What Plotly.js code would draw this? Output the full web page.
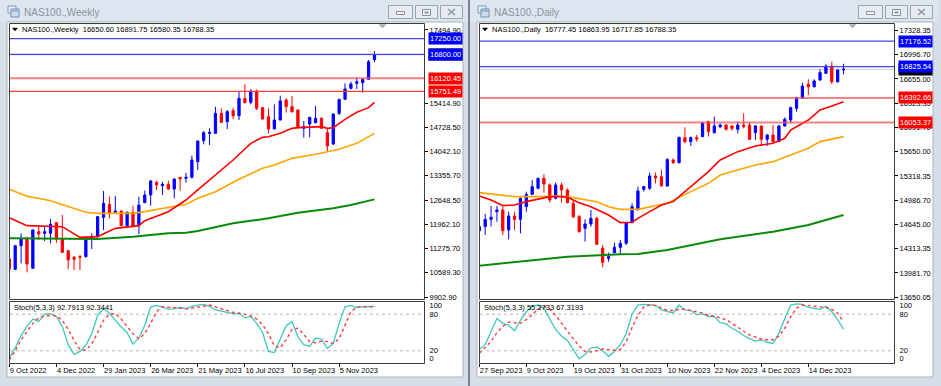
<!DOCTYPE html>
<html><head><meta charset="utf-8">
<script src="https://cdn.plot.ly/plotly-3.0.1.min.js"></script>
<style>html,body{margin:0;padding:0;background:#d8e0ea;overflow:hidden}#chart{width:941px;height:386px}</style>
</head><body><div id="chart"></div>
<script>
// ---------------- DATA ----------------
const weeklyDates = ['2022-10-09','2022-10-16','2022-10-23','2022-10-30','2022-11-06','2022-11-13','2022-11-20','2022-11-27','2022-12-04','2022-12-11','2022-12-18','2022-12-25','2023-01-01','2023-01-08','2023-01-15','2023-01-22','2023-01-29','2023-02-05','2023-02-12','2023-02-19','2023-02-26','2023-03-05','2023-03-12','2023-03-19','2023-03-26','2023-04-02','2023-04-09','2023-04-16','2023-04-23','2023-04-30','2023-05-07','2023-05-14','2023-05-21','2023-05-28','2023-06-04','2023-06-11','2023-06-18','2023-06-25','2023-07-02','2023-07-09','2023-07-16','2023-07-23','2023-07-30','2023-08-06','2023-08-13','2023-08-20','2023-08-27','2023-09-03','2023-09-10','2023-09-17','2023-09-24','2023-10-01','2023-10-08','2023-10-15','2023-10-22','2023-10-29','2023-11-05','2023-11-12','2023-11-19','2023-11-26','2023-12-03','2023-12-10','2023-12-17'];
const weeklyOpen  = [10983,10689,11362,11552,10718,11760,11713,11713,12016,11552,11220,11031,11050,11050,11552,11618,12168,12537,12310,12348,11931,12310,11931,12585,12803,13163,13068,13106,12973,13305,13276,13305,13750,14347,14556,14556,15124,14888,15200,15058,15551,15437,15741,15286,15030,14679,14935,15504,15314,15219,14698,14821,14859,14982,14575,14253,15124,15523,15835,15977,15996,16091,16650.60];
const weeklyHigh  = [11050,11381,11713,11618,11826,11921,11921,12120,12030,12234,11230,11068,11097,11560,11713,12200,12917,12755,12774,12360,12330,12499,12755,12926,13229,13210,13182,13210,13270,13315,13438,13921,14350,14622,14698,15314,15267,15219,15286,15741,15949,15807,15807,15295,15267,15380,15627,15551,15617,15230,14906,15020,15333,15011,14698,15115,15530,15977,16025,16148,16120,16641,16891.75];
const weeklyLow   = [10434,10670,10860,10604,10699,11523,11495,11428,11447,11160,10689,10670,10670,11021,11267,11600,11808,12139,12262,11920,11910,11890,11694,12580,12499,12945,12803,12945,12708,12926,13153,13276,13513,14243,14225,14540,14860,14679,14963,14935,15409,15380,15219,14950,14556,14670,14925,15143,15143,14700,14433,14443,14840,14690,14035,14225,15077,15504,15807,15816,15712,16072,16580.35];
const weeklyClose = [10699,11362,11571,10841,11808,11694,11760,11969,11552,11173,10955,10974,11031,11542,11618,12187,12566,12300,12348,11931,12310,11902,12518,12803,13201,13087,13106,12973,13257,13257,13305,13798,14338,14575,14584,15124,14869,15172,15058,15551,15428,15759,15267,14963,14679,14935,15475,15314,15172,14717,14745,15011,14982,14698,14196,15105,15523,15816,15958,16025,16091,16593,16788.35];

const dailyDates = ['2023-09-27','2023-09-28','2023-09-29','2023-10-02','2023-10-03','2023-10-04','2023-10-05','2023-10-06','2023-10-09','2023-10-10','2023-10-11','2023-10-12','2023-10-13','2023-10-16','2023-10-17','2023-10-18','2023-10-19','2023-10-20','2023-10-23','2023-10-24','2023-10-25','2023-10-26','2023-10-27','2023-10-30','2023-10-31','2023-11-01','2023-11-02','2023-11-03','2023-11-06','2023-11-07','2023-11-08','2023-11-09','2023-11-10','2023-11-13','2023-11-14','2023-11-15','2023-11-16','2023-11-17','2023-11-20','2023-11-21','2023-11-22','2023-11-23','2023-11-24','2023-11-27','2023-11-28','2023-11-29','2023-11-30','2023-12-01','2023-12-04','2023-12-05','2023-12-06','2023-12-07','2023-12-08','2023-12-11','2023-12-12','2023-12-13','2023-12-14','2023-12-15','2023-12-18','2023-12-19','2023-12-20','2023-12-21','2023-12-22'];
const dailyOpen  = [14564,14620,14720,14826,14849,14574,14766,14720,14895,15065,15148,15285,15194,15010,15194,15125,14941,14757,14596,14656,14734,14321,14183,14261,14335,14390,14675,14849,15134,15148,15318,15308,15180,15538,15501,15846,15791,15846,15860,16066,15915,15997,16020,16007,15961,16020,16020,15915,16007,15823,15883,15791,16007,16089,16250,16388,16581,16548,16640,16732,16833,16617,16777.45];
const dailyHigh  = [14665,14794,14904,14904,14895,14826,14826,15020,15102,15262,15295,15341,15216,15226,15226,15148,14987,14780,14720,14849,14757,14367,14261,14399,14436,14685,14941,15171,15180,15364,15364,15400,15561,15561,15860,15988,15860,15883,16060,16080,16135,16043,16030,16015,16066,16181,16052,16020,16010,15896,16020,16020,16126,16273,16411,16604,16650,16650,16787,16856,16893,16787,16863.95];
const dailyLow   = [14436,14505,14620,14688,14505,14445,14574,14528,14826,15056,15134,15088,14950,14996,14950,14941,14734,14537,14413,14620,14367,14059,14137,14252,14229,14367,14665,14849,15102,15125,15216,15175,15170,15483,15492,15768,15731,15791,15855,15860,15905,15974,15942,15942,15905,15974,15814,15814,15731,15731,15785,15785,15997,16043,16204,16380,16434,16535,16631,16730,16585,16604,16717.85];
const dailyClose = [14619,14720,14748,14849,14564,14766,14720,15010,15065,15171,15285,15207,14987,15194,15125,14950,14757,14551,14656,14734,14376,14128,14206,14335,14390,14675,14895,15111,15171,15318,15290,15180,15545,15501,15850,15791,15846,15827,16052,15929,16007,16020,15961,15974,16020,15997,15823,16007,15823,15883,15791,16007,16098,16259,16397,16558,16548,16627,16741,16833,16617,16778,16788.35];

// moving averages (at selected bars)
const wRedMaDates = ['2022-10-09','2022-10-30','2022-12-11','2023-01-01','2023-01-22','2023-02-12','2023-03-12','2023-03-19','2023-04-16','2023-05-07','2023-05-21','2023-06-11','2023-07-02','2023-07-23','2023-08-06','2023-08-13','2023-08-27','2023-09-10','2023-09-17','2023-10-15','2023-10-22','2023-10-29','2023-11-12','2023-11-26','2023-12-10','2023-12-17'];
const wRedMaVals  = [12158,11931,11902,11599,11618,11855,11931,12073,12329,12660,12950,13371,13798,14271,14442,14461,14556,14698,14717,14746,14698,14717,14954,15153,15286,15437];
const wOrangeMaDates = ['2022-10-09','2022-10-30','2022-11-27','2022-12-18','2023-01-08','2023-01-22','2023-03-05','2023-03-19','2023-04-09','2023-04-30','2023-05-07','2023-05-21','2023-06-11','2023-07-09','2023-08-06','2023-08-20','2023-09-10','2023-10-08','2023-10-22','2023-11-05','2023-11-26','2023-12-17'];
const wOrangeMaVals  = [12964,12770,12641,12471,12310,12281,12281,12329,12424,12518,12537,12708,12897,13250,13561,13655,13845,13959,14025,14101,14271,14556];
const wGreenMaDates = ['2022-10-09','2022-12-18','2023-01-22','2023-03-05','2023-04-16','2023-05-07','2023-05-21','2023-07-02','2023-08-13','2023-09-17','2023-10-29','2023-11-19','2023-12-17'];
const wGreenMaVals  = [11571,11571,11552,11618,11713,11732,11780,11997,12139,12300,12424,12518,12679];

const dRedMaDates = ['2023-09-27','2023-09-29','2023-10-03','2023-10-05','2023-10-09','2023-10-11','2023-10-13','2023-10-17','2023-10-18','2023-10-20','2023-10-24','2023-10-27','2023-10-31','2023-11-02','2023-11-03','2023-11-07','2023-11-09','2023-11-13','2023-11-16','2023-11-21','2023-11-23','2023-11-28','2023-12-01','2023-12-06','2023-12-08','2023-12-11','2023-12-14','2023-12-18','2023-12-20','2023-12-22'];
const dRedMaVals  = [15042,14987,14909,14918,14964,14996,15033,15033,15024,14950,14895,14780,14675,14680,14734,14826,14918,14964,15171,15377,15538,15653,15731,15768,15837,15951,16089,16227,16282,16342];
const dOrangeMaDates = ['2023-09-27','2023-10-02','2023-10-05','2023-10-11','2023-10-16','2023-10-18','2023-10-23','2023-10-25','2023-10-27','2023-10-31','2023-11-03','2023-11-07','2023-11-10','2023-11-16','2023-11-21','2023-11-23','2023-11-28','2023-12-01','2023-12-06','2023-12-11','2023-12-14','2023-12-18','2023-12-22'];
const dOrangeMaVals  = [15088,15056,15033,15033,15042,15033,14996,14964,14895,14858,14858,14895,14941,15102,15217,15331,15400,15469,15515,15607,15699,15791,15860];
const dGreenMaDates = ['2023-09-27','2023-10-06','2023-10-18','2023-10-31','2023-11-03','2023-11-10','2023-11-23','2023-12-06','2023-12-14','2023-12-22'];
const dGreenMaVals  = [14082,14137,14206,14238,14243,14298,14445,14550,14642,14780];

// Stochastic (5,3,3)
const wStochMain   = [8,25,45,60,72,68,80,81,76,60,30,14,19,29,48,78,89,82,70,59,50,31,41,62,92,94,92,88,89,91,89,93,95,96,93,87,85,83,81,81,74,76,65,50,19,17,38,61,68,43,30,27,41,39,24,32,65,92,94,91,92,92,92.7913];
const wStochSignal = [5,20,38,52,65,74,77,78,77,70,55,37,22,21,31,50,70,80,81,72,60,48,40,48,65,84,92,91,90,89,89,90,91,93,95,92,88,85,83,82,79,77,72,63,48,28,25,38,55,57,47,35,33,36,35,32,40,63,84,92,92,92,92.3441];
const dStochMain   = [22,30,52,73,65,62,53,70,84,93,95,90,72,55,44,37,22,7,14,25,26,20,11,19,30,48,80,95,96,96,95,87,84,82,95,87,86,79,81,76,76,66,64,57,52,45,40,36,38,34,32,49,73,95,97,96,91,89,88,93,84,71,55.2733];
const dStochSignal = [16,25,35,50,60,67,66,65,71,79,88,93,88,78,64,52,40,28,19,18,20,23,22,21,22,35,58,78,92,95,94,90,86,86,88,88,86,84,82,78,77,74,71,65,58,52,46,42,39,38,38,44,57,76,90,95,94,92,91,91,88,82,67.3193];

// axis labels
const weeklyTickDates  = ['2022-10-09','2022-12-04','2023-01-29','2023-03-26','2023-05-21','2023-07-16','2023-09-10','2023-11-05'];
const weeklyTickLabels = ['9 Oct 2022','4 Dec 2022','29 Jan 2023','26 Mar 2023','21 May 2023','16 Jul 2023','10 Sep 2023','5 Nov 2023'];
const dailyTickDates   = ['2023-09-27','2023-10-09','2023-10-19','2023-10-31','2023-11-10','2023-11-22','2023-12-04','2023-12-14'];
const dailyTickLabels  = ['27 Sep 2023','9 Oct 2023','19 Oct 2023','31 Oct 2023','10 Nov 2023','22 Nov 2023','4 Dec 2023','14 Dec 2023'];
const weeklyPriceTicks = [17494.90,15414.90,14728.50,14042.10,13355.70,12648.50,11962.10,11275.70,10589.30,9902.90];
const dailyPriceTicks  = [17328.35,16996.70,16655.00,16323.35,15991.70,15650.00,15318.35,14986.70,14645.00,14313.35,13981.70,13650.05];
const stochTickLabels  = ['100','80','20','0'];

// horizontal levels
const weeklyBlueLevels = [17250.00,16800.00];
const weeklyRedLevels  = [16120.45,15751.49];
const dailyBlueLevels  = [17176.52,16825.54];
const dailyRedLevels   = [16392.66,16053.37];

// ---------------- LAYOUT HELPERS ----------------
const W = 941, H = 386;
const px = x => x / W;
const py = y => 1 - y / H;
const FONT = 'Liberation Sans, Arial, sans-serif';
const shapes = [], annotations = [], traces = [];

function rect(x0, y0, x1, y1, fill, line, lw, layer) {
  shapes.push({type:'rect', xref:'paper', yref:'paper', x0:px(x0), x1:px(x1), y0:py(y1), y1:py(y0),
    fillcolor: fill || 'rgba(0,0,0,0)', line:{color: line || 'rgba(0,0,0,0)', width: lw === undefined ? 1 : lw}, layer: layer || 'above'});
}
function seg(x0, y0, x1, y1, color, lw, layer) {
  shapes.push({type:'line', xref:'paper', yref:'paper', x0:px(x0), x1:px(x1), y0:py(y0), y1:py(y1),
    line:{color, width: lw || 1}, layer: layer || 'above'});
}
function tri(pts, color) {
  const d = 'M ' + pts.map(p => px(p[0]) + ' ' + py(p[1])).join(' L ') + ' Z';
  shapes.push({type:'path', xref:'paper', yref:'paper', path:d, fillcolor:color, line:{color, width:0.5}});
}
function idx(dates, list) {
  return list.map(d => { const k = dates.indexOf(d); if (k < 0) console.error('missing date ' + d); return k; });
}

function buildWindow(o) {
  const ox = o.ox;
  const n = o.dates.length;
  const bars = o.dates.map((d, i) => i);
  // window chrome
  rect(ox + 0, 0, ox + 468, 22, '#dde5ee', null, 0, 'below');
  rect(ox + 7, 22, ox + 463, 377, '#ffffff', '#a9b3be', 1, 'below');
  rect(ox + 8, 6, ox + 16, 13, '#e9eef5', '#7d9cc0', 1);
  rect(ox + 11, 9, ox + 19, 17, '#cfdcec', '#6f90b8', 1);
  seg(ox + 11.5, 11, ox + 18.5, 11, '#6f90b8', 1);
  annotations.push({xref:'paper', yref:'paper', x:px(ox + 22), y:py(12), xanchor:'left', yanchor:'middle',
    text:o.title, showarrow:false, font:{family:FONT, size:10, color:'#8a949f'}});
  const btn = [[388, 413], [415, 438], [440, 463]];
  btn.forEach(b => rect(ox + b[0] + 0.5, 5.5, ox + b[1] - 0.5, 18.5, '#e6ebf1', '#9ba6b3', 1));
  rect(ox + 396.5, 11.5, ox + 404.5, 14.5, '#f4f6f9', '#8792a0', 1);
  rect(ox + 422.5, 9.5, ox + 430.5, 15.5, '#f4f6f9', '#8792a0', 1);
  rect(ox + 424.5, 11.5, ox + 428.5, 13.5, '#8792a0', '#8792a0', 0);
  seg(ox + 448, 9, ox + 455, 15, '#8f99a6', 1.6);
  seg(ox + 448, 15, ox + 455, 9, '#8f99a6', 1.6);

  const x0 = ox + 9, x1 = ox + 424;
  const xr = [(x0 - o.first) / o.step, (x1 - o.first) / o.step];

  const ax = o.axes;
  const an = a => (a[0] === 'x' ? 'xaxis' : 'yaxis') + a.slice(1);
  const tickfont = {family:FONT, size:7.5, color:'#000000'};
  o.layout[an(ax[0])] = {domain:[px(x0), px(x1)], range:xr, anchor:ax[1], showticklabels:false, ticks:'',
    showgrid:false, zeroline:false, showline:false, rangeslider:{visible:false}, fixedrange:true};
  o.layout[an(ax[1])] = {domain:[py(299), py(24)], range:o.yrange, anchor:ax[0], side:'right',
    tickvals:o.priceTicks, ticktext:o.priceTicks.map(v => v.toFixed(2)), ticks:'outside', ticklen:3,
    tickcolor:'#000000', tickwidth:1, showgrid:false, zeroline:false, showline:false, tickfont, fixedrange:true};
  o.layout[an(ax[2])] = {domain:[px(x0), px(x1)], range:xr, anchor:ax[3], tickangle:0, automargin:false,
    tickvals:idx(o.dates, o.tickDates), ticktext:o.tickLabels, ticks:'outside', ticklen:3, tickcolor:'#000000',
    ticklabelposition:'outside right', showgrid:false, zeroline:false, showline:false, tickfont, fixedrange:true};
  o.layout[an(ax[3])] = {domain:[py(363), py(302)], range:[0, 100], anchor:ax[2], side:'right',
    tickvals:[94, 80, 20, 7], ticktext:stochTickLabels, ticks:'outside', ticklen:3, tickcolor:'rgba(0,0,0,0)',
    showgrid:false, zeroline:false, showline:false, tickfont, fixedrange:true};

  traces.push({type:'candlestick', x:bars, open:o.O, high:o.H, low:o.L, close:o.C, xaxis:ax[0], yaxis:ax[1],
    increasing:{line:{color:'#0000ff', width:1}, fillcolor:'#0000ff'},
    decreasing:{line:{color:'#ff0000', width:1}, fillcolor:'#ff0000'},
    whiskerwidth:0, hoverinfo:'skip', showlegend:false});
  o.mas.forEach(m => traces.push({type:'scatter', mode:'lines', x:idx(o.dates, m.d), y:m.v, xaxis:ax[0], yaxis:ax[1],
    line:{color:m.c, width:m.w}, hoverinfo:'skip', showlegend:false}));
  traces.push({type:'scatter', mode:'lines', x:bars, y:o.sMain, xaxis:ax[2], yaxis:ax[3],
    line:{color:'#3fc8bd', width:1.3}, hoverinfo:'skip', showlegend:false});
  traces.push({type:'scatter', mode:'lines', x:bars, y:o.sSig, xaxis:ax[2], yaxis:ax[3],
    line:{color:'#ff3b3b', width:1.4, dash:'dot'}, hoverinfo:'skip', showlegend:false});

  [80, 20].forEach(v => shapes.push({type:'line', xref:'paper', yref:ax[3], x0:px(x0 + 1), x1:px(x1), y0:v, y1:v,
    line:{color:'#b9b9b9', width:1, dash:'dot'}, layer:'below'}));

  const last = o.C[n - 1];
  shapes.push({type:'line', xref:'paper', yref:ax[1], x0:px(x0 + 1), x1:px(x1), y0:last, y1:last,
    line:{color:'#c8c8c8', width:1}, layer:'below'});
  o.red.forEach((v, k) => shapes.push({type:'line', xref:'paper', yref:ax[1], x0:px(x0 + 1), x1:px(x1), y0:v, y1:v,
    line:{color: k === 0 || o.softRed ? 'rgba(240,90,90,0.75)' : '#ff3a3a', width: k === 0 || o.softRed ? 2 : 1.2}, layer:'above'}));
  o.blue.forEach(v => shapes.push({type:'line', xref:'paper', yref:ax[1], x0:px(x0 + 1), x1:px(x1), y0:v, y1:v,
    line:{color:'#4646f0', width:1.2}, layer:'above'}));

  rect(x0 + 0.5, 23.5, x1 + 0.5, 299.5, null, '#3c3c3c', 1);
  rect(x0 + 0.5, 301.5, x1 + 0.5, 363.5, null, '#3c3c3c', 1);
  tri([[ox + 379, 24.5], [ox + 386, 24.5], [ox + 382.5, 28]], '#a9a9a9');
  tri([[ox + 12.5, 28], [ox + 17.5, 28], [ox + 15, 31]], '#000000');
  annotations.push({xref:'paper', yref:'paper', x:px(ox + 20), y:py(29.5), xanchor:'left', yanchor:'middle', showarrow:false,
    text:o.header + '  ' + [o.O[n - 1], o.H[n - 1], o.L[n - 1], o.C[n - 1]].map(v => v.toFixed(2)).join(' '),
    font:{family:FONT, size:7.5, color:'#000000'}});
  annotations.push({xref:'paper', yref:'paper', x:px(ox + 12), y:py(307.5), xanchor:'left', yanchor:'middle', showarrow:false,
    text:'Stoch(5,3,3) ' + o.sMain[n - 1].toFixed(4) + ' ' + o.sSig[n - 1].toFixed(4),
    font:{family:FONT, size:7.5, color:'#000000'}});

  const box = (v, bg) => annotations.push({xref:'paper', yref:ax[1], x:px(ox + 427.5), y:v, xanchor:'left', yanchor:'middle',
    showarrow:false, text:v.toFixed(2), bgcolor:bg, borderpad:1, width:31, align:'left',
    font:{family:FONT, size:7.5, color:'#ffffff'}});
  box(last, '#000000');
  o.red.forEach(v => box(v, '#ff0000'));
  o.blue.forEach(v => box(v, '#0000ff'));
}

const layout = {
  width:W, height:H, margin:{l:0, r:0, t:0, b:0},
  paper_bgcolor:'#d6dee8', plot_bgcolor:'rgba(0,0,0,0)',
  showlegend:false, hovermode:false, boxgap:0.45, dragmode:false,
  shapes, annotations
};

buildWindow({ox:0, title:'NAS100.,Weekly', header:'NAS100.,Weekly', dates:weeklyDates,
  O:weeklyOpen, H:weeklyHigh, L:weeklyLow, C:weeklyClose, first:9.3, step:5.89,
  yrange:[9846.0, 17664.3], priceTicks:weeklyPriceTicks, tickDates:weeklyTickDates, tickLabels:weeklyTickLabels,
  mas:[{d:wGreenMaDates, v:wGreenMaVals, c:'#0a8a0a', w:2}, {d:wOrangeMaDates, v:wOrangeMaVals, c:'#ffa500', w:1.6},
       {d:wRedMaDates, v:wRedMaVals, c:'#ff0000', w:1.6}],
  sMain:wStochMain, sSig:wStochSignal, blue:weeklyBlueLevels, red:weeklyRedLevels, softRed:false,
  axes:['x', 'y', 'x2', 'y2'], layout});

buildWindow({ox:470, title:'NAS100.,Daily', header:'NAS100.,Daily', dates:dailyDates,
  O:dailyOpen, H:dailyHigh, L:dailyLow, C:dailyClose, first:479.3, step:5.875,
  yrange:[13622.5, 17412.0], priceTicks:dailyPriceTicks, tickDates:dailyTickDates, tickLabels:dailyTickLabels,
  mas:[{d:dGreenMaDates, v:dGreenMaVals, c:'#0a8a0a', w:2}, {d:dOrangeMaDates, v:dOrangeMaVals, c:'#ffa500', w:1.6},
       {d:dRedMaDates, v:dRedMaVals, c:'#ff0000', w:1.6}],
  sMain:dStochMain, sSig:dStochSignal, blue:dailyBlueLevels, red:dailyRedLevels, softRed:true,
  axes:['x3', 'y3', 'x4', 'y4'], layout});

seg(469, 0, 469, 386, '#7c848d', 2);

Plotly.newPlot('chart', traces, layout, {staticPlot:true, displayModeBar:false});
</script></body></html>
